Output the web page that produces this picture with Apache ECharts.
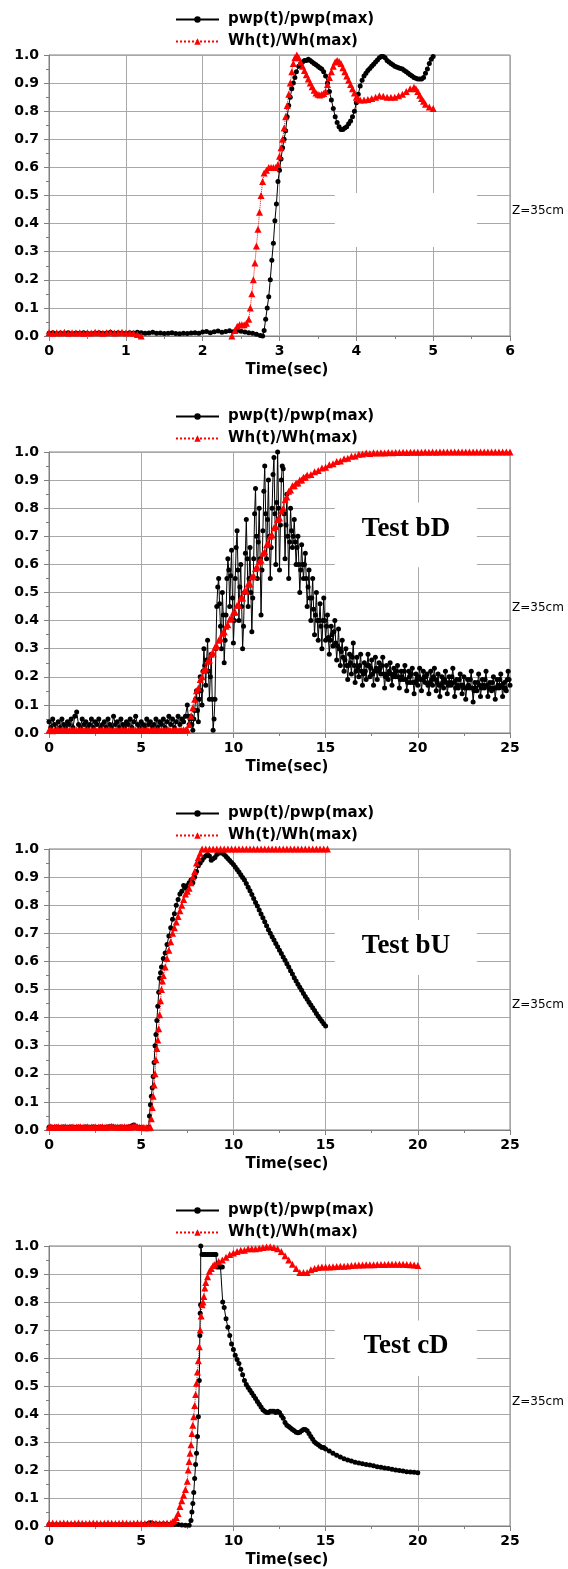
<!DOCTYPE html>
<html><head><meta charset="utf-8">
<script src="https://cdn.jsdelivr.net/npm/echarts@6.0.0/dist/echarts.min.js"></script>
<style>html,body{margin:0;padding:0;background:#fff}#c{width:568px;height:1569px}</style>
</head><body><div id="c"></div><script>
// ---------- DATA ----------
const seriesNames = ['pwp(t)/pwp(max)', 'Wh(t)/Wh(max)'];
const xAxisTitle = 'Time(sec)';
const yTickLabels = ['0.0','0.1','0.2','0.3','0.4','0.5','0.6','0.7','0.8','0.9','1.0'];
const xRanges = [[0, 6, 1], [0, 25, 5], [0, 25, 5], [0, 25, 5]];
const testLabels = ['', 'Test bD', 'Test bU', 'Test cD'];
const depthLabel = 'Z=35cm';
// text boxes in data coords [x0, x1, yTop, yBottom], label centre [x, y]
const boxRanges = [[3.72, 5.57, 0.509, 0.317], [15.5, 23.2, 0.82, 0.59], [15.5, 23.2, 0.747, 0.552], [15.5, 23.2, 0.734, 0.536]];
const labelCentres = [[4.6, 0.41], [19.36, 0.727], [19.36, 0.655], [19.36, 0.644]];

// Panel 1
const p1Pwp = [[0,0.010],[0.05,0.012],[0.1,0.009],[0.15,0.011],[0.2,0.010],[0.25,0.012],[0.3,0.009],[0.35,0.011],[0.4,0.010],[0.45,0.012],[0.5,0.010],[0.55,0.009],[0.6,0.011],[0.65,0.012],[0.7,0.010],[0.75,0.011],[0.8,0.013],[0.85,0.010],[0.9,0.012],[0.95,0.011],[1.0,0.010],[1.05,0.012],[1.1,0.011],[1.15,0.013],[1.2,0.012],[1.25,0.010],[1.3,0.011],[1.35,0.013],[1.4,0.010],[1.45,0.011],[1.5,0.009],[1.55,0.010],[1.6,0.012],[1.65,0.009],[1.7,0.008],[1.75,0.010],[1.8,0.009],[1.85,0.011],[1.9,0.012],[1.95,0.010],[2.0,0.014],[2.05,0.016],[2.1,0.012],[2.15,0.015],[2.2,0.018],[2.25,0.013],[2.3,0.016],[2.35,0.019],[2.4,0.015],[2.45,0.020],[2.5,0.017],[2.55,0.014],[2.6,0.012],[2.65,0.010],[2.7,0.006],[2.75,0.002],[2.78,0.0],[2.8,0.02],[2.82,0.06],[2.84,0.10],[2.86,0.14],[2.88,0.20],[2.9,0.27],[2.92,0.33],[2.94,0.41],[2.96,0.47],[2.98,0.55],[3.0,0.59],[3.02,0.63],[3.04,0.67],[3.06,0.70],[3.08,0.73],[3.1,0.78],[3.12,0.82],[3.14,0.85],[3.16,0.88],[3.18,0.90],[3.2,0.92],[3.22,0.94],[3.25,0.96],[3.275,0.97],[3.3,0.975],[3.325,0.98],[3.35,0.98],[3.375,0.985],[3.4,0.98],[3.425,0.975],[3.45,0.97],[3.475,0.965],[3.5,0.96],[3.525,0.955],[3.55,0.95],[3.575,0.94],[3.6,0.925],[3.625,0.90],[3.65,0.87],[3.675,0.84],[3.7,0.81],[3.725,0.78],[3.75,0.76],[3.775,0.745],[3.8,0.735],[3.825,0.735],[3.85,0.74],[3.875,0.745],[3.9,0.755],[3.925,0.765],[3.95,0.78],[3.975,0.80],[4.0,0.83],[4.025,0.86],[4.05,0.89],[4.075,0.91],[4.1,0.925],[4.125,0.935],[4.15,0.945],[4.175,0.952],[4.2,0.96],[4.225,0.967],[4.25,0.975],[4.275,0.982],[4.3,0.99],[4.325,0.995],[4.35,0.995],[4.375,0.99],[4.4,0.98],[4.425,0.975],[4.45,0.97],[4.475,0.965],[4.5,0.96],[4.525,0.957],[4.55,0.955],[4.575,0.952],[4.6,0.95],[4.625,0.945],[4.65,0.94],[4.675,0.935],[4.7,0.93],[4.725,0.925],[4.75,0.92],[4.775,0.917],[4.8,0.915],[4.825,0.915],[4.85,0.915],[4.875,0.92],[4.9,0.935],[4.925,0.95],[4.95,0.97],[4.975,0.985],[5.0,0.995]];
const p1Wh = [[0,0.012],[0.05,0.010],[0.1,0.012],[0.15,0.011],[0.2,0.013],[0.25,0.010],[0.3,0.012],[0.35,0.011],[0.4,0.012],[0.45,0.010],[0.5,0.012],[0.55,0.011],[0.6,0.013],[0.65,0.012],[0.7,0.010],[0.75,0.012],[0.8,0.013],[0.85,0.011],[0.9,0.012],[0.95,0.013],[1.0,0.011],[1.05,0.012],[1.1,0.010],[1.15,0.005],[1.2,0.0],[1.25,null],[2.38,0.0],[2.42,0.02],[2.45,0.035],[2.48,0.04],[2.51,0.04],[2.54,0.04],[2.57,0.045],[2.6,0.06],[2.62,0.10],[2.64,0.15],[2.66,0.20],[2.68,0.26],[2.7,0.32],[2.72,0.38],[2.74,0.44],[2.76,0.50],[2.78,0.55],[2.8,0.58],[2.83,0.59],[2.86,0.60],[2.89,0.60],[2.92,0.60],[2.95,0.60],[2.98,0.61],[3.0,0.64],[3.02,0.67],[3.04,0.70],[3.06,0.74],[3.08,0.78],[3.1,0.82],[3.12,0.86],[3.14,0.90],[3.16,0.94],[3.18,0.97],[3.2,0.99],[3.225,1.0],[3.25,0.99],[3.275,0.975],[3.3,0.96],[3.325,0.945],[3.35,0.93],[3.375,0.915],[3.4,0.90],[3.425,0.887],[3.45,0.875],[3.475,0.865],[3.5,0.86],[3.525,0.858],[3.55,0.86],[3.575,0.863],[3.6,0.87],[3.625,0.895],[3.65,0.92],[3.675,0.94],[3.7,0.96],[3.725,0.975],[3.75,0.98],[3.775,0.977],[3.8,0.97],[3.825,0.955],[3.85,0.94],[3.875,0.925],[3.9,0.91],[3.925,0.895],[3.95,0.88],[3.975,0.865],[4.0,0.85],[4.025,0.843],[4.05,0.84],[4.1,0.84],[4.15,0.842],[4.2,0.845],[4.25,0.85],[4.3,0.855],[4.35,0.853],[4.4,0.85],[4.45,0.85],[4.5,0.85],[4.55,0.855],[4.6,0.86],[4.65,0.87],[4.7,0.88],[4.75,0.885],[4.775,0.88],[4.8,0.87],[4.825,0.857],[4.85,0.845],[4.875,0.835],[4.9,0.825],[4.95,0.815],[5.0,0.81]];

// Panel 2 (Test bD)
const p2Pwp = [[0,0.04],[0.1,0.02],[0.2,0.05],[0.3,0.03],[0.4,0.01],[0.5,0.04],[0.6,0.02],[0.7,0.05],[0.8,0.03],[0.9,0.02],[1.0,0.04],[1.1,0.03],[1.2,0.05],[1.3,0.02],[1.4,0.06],[1.5,0.075],[1.6,0.03],[1.7,0.02],[1.8,0.05],[1.9,0.03],[2.0,0.04],[2.1,0.02],[2.2,0.03],[2.3,0.05],[2.4,0.02],[2.5,0.04],[2.6,0.03],[2.7,0.05],[2.8,0.02],[2.9,0.03],[3.0,0.04],[3.1,0.02],[3.2,0.05],[3.3,0.03],[3.4,0.02],[3.5,0.06],[3.6,0.03],[3.7,0.04],[3.8,0.02],[3.9,0.05],[4.0,0.03],[4.1,0.02],[4.2,0.04],[4.3,0.03],[4.4,0.05],[4.5,0.02],[4.6,0.04],[4.7,0.06],[4.8,0.03],[4.9,0.02],[5.0,0.04],[5.1,0.03],[5.2,0.02],[5.3,0.05],[5.4,0.03],[5.5,0.04],[5.6,0.02],[5.7,0.03],[5.8,0.05],[5.9,0.02],[6.0,0.04],[6.1,0.03],[6.2,0.05],[6.3,0.02],[6.4,0.04],[6.5,0.06],[6.6,0.03],[6.7,0.05],[6.8,0.02],[6.9,0.04],[7.0,0.06],[7.1,0.03],[7.2,0.05],[7.3,0.04],[7.4,0.06],
[7.5,0.10],[7.55,0.06],[7.6,0.03],[7.65,0.05],[7.7,0.06],[7.75,0.03],[7.8,0.01],[7.85,0.05],[7.9,0.08],[7.95,0.12],[8.0,0.15],[8.05,0.08],[8.1,0.04],[8.15,0.12],[8.2,0.20],[8.25,0.15],[8.3,0.10],[8.35,0.22],[8.4,0.30],[8.45,0.24],[8.5,0.17],[8.55,0.26],[8.6,0.33],[8.65,0.22],[8.7,0.12],[8.75,0.20],[8.8,0.28],[8.85,0.12],[8.9,0.01],[8.95,0.05],
[9.0,0.12],[9.05,0.30],[9.1,0.45],[9.15,0.52],[9.2,0.55],[9.25,0.46],[9.3,0.38],[9.35,0.30],[9.4,0.50],[9.45,0.42],[9.5,0.25],[9.55,0.33],[9.6,0.42],[9.65,0.55],[9.7,0.62],[9.75,0.58],[9.8,0.45],[9.85,0.56],[9.9,0.65],[9.95,0.48],[10.0,0.32],[10.05,0.40],[10.1,0.55],[10.15,0.66],[10.2,0.72],[10.25,0.58],[10.3,0.40],[10.35,0.52],[10.4,0.60],[10.45,0.45],[10.5,0.30],[10.55,0.38],[10.6,0.50],[10.65,0.64],[10.7,0.76],[10.75,0.62],[10.8,0.45],[10.85,0.55],[10.9,0.66],[10.95,0.50],[11.0,0.36],[11.05,0.48],[11.1,0.62],[11.15,0.78],[11.2,0.87],[11.25,0.70],[11.3,0.55],[11.35,0.68],[11.4,0.80],[11.45,0.62],[11.5,0.42],[11.55,0.58],[11.6,0.72],[11.65,0.86],[11.7,0.95],[11.75,0.78],[11.8,0.62],[11.85,0.76],[11.9,0.90],[11.95,0.70],[12.0,0.55],[12.05,0.66],[12.1,0.80],[12.15,0.92],[12.2,0.98],[12.25,0.78],[12.3,0.60],[12.35,0.82],[12.4,1.00],[12.45,0.80],[12.5,0.58],[12.55,0.74],[12.6,0.90],[12.65,0.95],[12.7,0.94],[12.75,0.78],[12.8,0.62],[12.85,0.74],[12.9,0.85],[12.95,0.70],[13.0,0.55],[13.05,0.68],[13.1,0.80],[13.15,0.72],[13.2,0.66],[13.25,0.70],[13.3,0.76],[13.35,0.68],[13.4,0.60],[13.45,0.66],[13.5,0.70],[13.55,0.60],[13.6,0.50],[13.65,0.58],[13.7,0.67],[13.75,0.60],[13.8,0.55],[13.85,0.60],[13.9,0.64],[13.95,0.55],[14.0,0.45],[14.05,0.52],[14.1,0.58],[14.15,0.48],[14.2,0.40],[14.25,0.48],[14.3,0.55],[14.35,0.44],[14.4,0.35],[14.45,0.42],[14.5,0.50],[14.55,0.40],[14.6,0.33],[14.65,0.40],[14.7,0.46],[14.75,0.38],[14.8,0.30],[14.85,0.40],[14.9,0.48],[14.95,0.40],
[15.0,0.33],[15.05,0.38],[15.1,0.42],[15.15,0.34],[15.2,0.28],[15.25,0.33],[15.3,0.38],[15.35,0.35],[15.4,0.31],[15.45,0.36],[15.5,0.40],[15.55,0.32],[15.6,0.26],[15.65,0.31],[15.7,0.37],[15.75,0.30],[15.8,0.24],[15.85,0.29],[15.9,0.33],[15.95,0.27],[16.0,0.22],[16.05,0.26],[16.1,0.30],[16.15,0.24],[16.2,0.19],[16.25,0.24],[16.3,0.28],[16.35,0.25],[16.4,0.21],[16.45,0.27],[16.5,0.32],[16.55,0.24],[16.6,0.18],[16.65,0.22],[16.7,0.27],[16.75,0.23],[16.8,0.20],[16.85,0.24],[16.9,0.28],[16.95,0.22],[17.0,0.17],[17.05,0.21],[17.1,0.25],[17.15,0.22],[17.2,0.19],[17.25,0.24],[17.3,0.28],[17.35,0.24],[17.4,0.20],[17.45,0.23],[17.5,0.26],[17.55,0.21],[17.6,0.17],[17.65,0.22],[17.7,0.27],[17.75,0.23],[17.8,0.19],[17.85,0.22],[17.9,0.25],[17.95,0.23],[18.0,0.21],[18.05,0.24],[18.1,0.27],[18.15,0.21],[18.2,0.16],[18.25,0.20],[18.3,0.24],[18.35,0.21],[18.4,0.19],[18.45,0.22],[18.5,0.25],[18.55,0.21],[18.6,0.17],[18.65,0.20],[18.7,0.23],[18.75,0.21],[18.8,0.20],[18.85,0.22],[18.9,0.24],[18.95,0.20],[19.0,0.16],[19.05,0.19],[19.1,0.22],[19.15,0.20],[19.2,0.19],[19.25,0.22],[19.3,0.24],[19.35,0.19],[19.4,0.15],[19.45,0.18],[19.5,0.22],[19.55,0.20],[19.6,0.18],[19.65,0.21],[19.7,0.23],[19.75,0.18],[19.8,0.14],[19.85,0.18],[19.9,0.21],[19.95,0.19],[20.0,0.17],[20.05,0.20],[20.1,0.23],[20.15,0.19],[20.2,0.15],[20.25,0.19],[20.3,0.22],[20.35,0.20],[20.4,0.18],[20.45,0.20],[20.5,0.21],[20.55,0.17],[20.6,0.14],[20.65,0.18],[20.7,0.22],[20.75,0.19],[20.8,0.17],[20.85,0.20],[20.9,0.23],[20.95,0.19],[21.0,0.15],[21.05,0.18],[21.1,0.21],[21.15,0.17],[21.2,0.13],[21.25,0.17],[21.3,0.20],[21.35,0.18],[21.4,0.16],[21.45,0.19],[21.5,0.22],[21.55,0.18],[21.6,0.14],[21.65,0.17],[21.7,0.20],[21.75,0.18],[21.8,0.17],[21.85,0.20],[21.9,0.23],[21.95,0.18],[22.0,0.13],[22.05,0.16],[22.1,0.19],[22.15,0.17],[22.2,0.16],[22.25,0.19],[22.3,0.21],[22.35,0.17],[22.4,0.14],[22.45,0.17],[22.5,0.20],[22.55,0.16],[22.6,0.12],[22.65,0.16],[22.7,0.19],[22.75,0.17],[22.8,0.16],[22.85,0.19],[22.9,0.22],[22.95,0.16],[23.0,0.11],[23.05,0.15],[23.1,0.18],[23.15,0.16],[23.2,0.15],[23.25,0.18],[23.3,0.21],[23.35,0.17],[23.4,0.13],[23.45,0.16],[23.5,0.19],[23.55,0.17],[23.6,0.16],[23.65,0.19],[23.7,0.22],[23.75,0.17],[23.8,0.13],[23.85,0.16],[23.9,0.18],[23.95,0.16],[24.0,0.15],[24.05,0.18],[24.1,0.20],[24.15,0.16],[24.2,0.12],[24.25,0.16],[24.3,0.19],[24.35,0.17],[24.4,0.16],[24.45,0.19],[24.5,0.21],[24.55,0.17],[24.6,0.13],[24.65,0.16],[24.7,0.18],[24.75,0.16],[24.8,0.15],[24.85,0.19],[24.9,0.22],[24.95,0.19],[25.0,0.17]];
const p2Wh = [[0,0.010],[0.1,0.012],[0.2,0.008],[0.3,0.011],[0.4,0.010],[0.5,0.012],[0.6,0.009],[0.7,0.011],[0.8,0.010],[0.9,0.012],[1.0,0.009],[1.1,0.011],[1.2,0.010],[1.3,0.012],[1.4,0.009],[1.5,0.011],[1.6,0.010],[1.7,0.012],[1.8,0.009],[1.9,0.011],[2.0,0.010],[2.1,0.012],[2.2,0.009],[2.3,0.011],[2.4,0.010],[2.5,0.012],[2.6,0.009],[2.7,0.011],[2.8,0.010],[2.9,0.012],[3.0,0.009],[3.1,0.011],[3.2,0.010],[3.3,0.012],[3.4,0.009],[3.5,0.011],[3.6,0.010],[3.7,0.012],[3.8,0.009],[3.9,0.011],[4.0,0.010],[4.1,0.012],[4.2,0.009],[4.3,0.011],[4.4,0.010],[4.5,0.012],[4.6,0.009],[4.7,0.011],[4.8,0.010],[4.9,0.012],[5.0,0.009],[5.1,0.011],[5.2,0.010],[5.3,0.012],[5.4,0.009],[5.5,0.011],[5.6,0.010],[5.7,0.012],[5.8,0.009],[5.9,0.011],[6.0,0.010],[6.1,0.012],[6.2,0.009],[6.3,0.011],[6.4,0.010],[6.5,0.012],[6.6,0.009],[6.7,0.011],[6.8,0.010],[6.9,0.012],[7.0,0.009],[7.1,0.011],[7.2,0.010],[7.3,0.012],[7.4,0.010],
[7.5,0.012],[7.6,0.03],[7.7,0.06],[7.8,0.09],[7.9,0.12],[8.0,0.15],[8.1,0.16],[8.2,0.19],[8.3,0.20],[8.4,0.225],[8.5,0.23],[8.6,0.255],[8.7,0.26],[8.8,0.28],[8.9,0.285],[9.0,0.305],[9.1,0.31],[9.2,0.33],[9.3,0.335],[9.4,0.355],[9.5,0.36],[9.6,0.38],[9.7,0.385],[9.8,0.405],[9.9,0.41],[10.0,0.43],[10.1,0.43],[10.2,0.455],[10.3,0.455],[10.4,0.48],[10.5,0.48],[10.6,0.505],[10.7,0.505],[10.8,0.53],[10.9,0.53],[11.0,0.555],[11.1,0.56],[11.2,0.585],[11.3,0.59],[11.4,0.61],[11.5,0.615],[11.6,0.64],[11.7,0.645],[11.8,0.67],[11.9,0.675],[12.0,0.70],[12.1,0.705],[12.2,0.73],[12.3,0.735],[12.4,0.76],[12.5,0.765],[12.6,0.79],[12.7,0.80],[12.8,0.83],[12.9,0.84],[13.0,0.86],[13.1,0.865],[13.2,0.88],[13.3,0.88],[13.4,0.89],[13.5,0.89],[13.6,0.90],[13.7,0.90],[13.8,0.91],[13.9,0.91],[14.0,0.918],[14.2,0.92],[14.4,0.93],[14.6,0.934],[14.8,0.943],[15.0,0.946],[15.2,0.955],[15.4,0.958],[15.6,0.966],[15.8,0.968],[16.0,0.976],[16.2,0.978],[16.4,0.985],[16.6,0.986],[16.8,0.992],[17.0,0.993],[17.2,0.996],[17.4,0.995],[17.6,0.997],[17.8,0.996],[18.0,0.997],[18.2,0.996],[18.4,0.998],[18.6,0.997],[18.8,0.998],[19.0,0.998],[19.2,0.999],[19.4,0.998],[19.6,0.999],[19.8,0.999],[20.0,0.999],[20.2,0.999],[20.4,1.0],[20.6,0.999],[20.8,1.0],[21.0,0.999],[21.2,1.0],[21.4,1.0],[21.6,1.0],[21.8,1.0],[22.0,1.0],[22.2,1.0],[22.4,1.0],[22.6,1.0],[22.8,1.0],[23.0,1.0],[23.2,1.0],[23.4,1.0],[23.6,1.0],[23.8,1.0],[24.0,1.0],[24.2,1.0],[24.4,1.0],[24.6,1.0],[24.8,1.0],[25.0,1.0]];

// Panel 3 (Test bU)
const p3Pwp = [[0,0.010],[0.1,0.011],[0.2,0.009],[0.3,0.010],[0.4,0.011],[0.5,0.010],[0.6,0.009],[0.7,0.010],[0.8,0.011],[0.9,0.010],[1.0,0.009],[1.1,0.010],[1.2,0.011],[1.3,0.010],[1.4,0.009],[1.5,0.010],[1.6,0.011],[1.7,0.010],[1.8,0.009],[1.9,0.010],[2.0,0.011],[2.1,0.010],[2.2,0.009],[2.3,0.010],[2.4,0.011],[2.5,0.010],[2.6,0.009],[2.7,0.010],[2.8,0.011],[2.9,0.010],[3.0,0.009],[3.1,0.010],[3.2,0.011],[3.3,0.012],[3.4,0.012],[3.5,0.011],[3.6,0.010],[3.7,0.009],[3.8,0.010],[3.9,0.011],[4.0,0.010],[4.1,0.009],[4.2,0.010],[4.3,0.011],[4.4,0.012],[4.5,0.015],[4.6,0.018],[4.7,0.012],[4.8,0.010],[4.9,0.009],[5.0,0.008],[5.1,0.007],[5.2,0.006],[5.3,0.006],[5.4,0.01],[5.45,0.05],[5.5,0.09],[5.55,0.12],[5.6,0.15],[5.65,0.19],[5.7,0.24],[5.75,0.30],[5.8,0.34],[5.85,0.39],[5.9,0.44],[5.95,0.49],[6.0,0.54],[6.05,0.56],[6.1,0.58],[6.2,0.61],[6.3,0.63],[6.4,0.66],[6.5,0.69],[6.6,0.72],[6.7,0.75],[6.8,0.77],[6.9,0.80],[7.0,0.82],[7.1,0.84],[7.2,0.85],[7.3,0.87],[7.4,0.86],[7.5,0.87],[7.6,0.88],[7.7,0.89],[7.8,0.88],[7.9,0.90],[8.0,0.92],[8.1,0.94],[8.2,0.95],[8.3,0.96],[8.4,0.97],[8.5,0.975],[8.6,0.98],[8.7,0.975],[8.8,0.96],[8.9,0.965],[9.0,0.97],[9.1,0.98],[9.2,0.985],[9.3,0.99],[9.4,0.985],[9.5,0.980],[9.6,0.973],[9.7,0.966],[9.8,0.959],[9.9,0.952],[10.0,0.945],[10.1,0.936],[10.2,0.927],[10.3,0.918],[10.4,0.908],[10.5,0.899],[10.6,0.890],[10.7,0.877],[10.8,0.864],[10.9,0.851],[11.0,0.838],[11.1,0.824],[11.2,0.810],[11.3,0.797],[11.4,0.783],[11.5,0.769],[11.6,0.755],[11.7,0.741],[11.8,0.727],[11.9,0.713],[12.0,0.700],[12.1,0.688],[12.2,0.676],[12.3,0.664],[12.4,0.652],[12.5,0.640],[12.6,0.628],[12.7,0.616],[12.8,0.604],[12.9,0.592],[13.0,0.580],[13.1,0.567],[13.2,0.555],[13.3,0.542],[13.4,0.530],[13.5,0.519],[13.6,0.508],[13.7,0.497],[13.8,0.486],[13.9,0.475],[14.0,0.465],[14.1,0.455],[14.2,0.445],[14.3,0.435],[14.4,0.425],[14.5,0.415],[14.6,0.405],[14.7,0.396],[14.8,0.387],[14.9,0.378],[15.0,0.370]];
const p3Wh = [[0,0.010],[0.1,0.012],[0.2,0.009],[0.3,0.011],[0.4,0.010],[0.5,0.012],[0.6,0.009],[0.7,0.011],[0.8,0.010],[0.9,0.012],[1.0,0.009],[1.1,0.011],[1.2,0.010],[1.3,0.012],[1.4,0.009],[1.5,0.011],[1.6,0.010],[1.7,0.012],[1.8,0.009],[1.9,0.011],[2.0,0.010],[2.1,0.012],[2.2,0.009],[2.3,0.011],[2.4,0.010],[2.5,0.012],[2.6,0.009],[2.7,0.011],[2.8,0.010],[2.9,0.012],[3.0,0.009],[3.1,0.011],[3.2,0.010],[3.3,0.012],[3.4,0.013],[3.5,0.012],[3.6,0.010],[3.7,0.011],[3.8,0.009],[3.9,0.011],[4.0,0.010],[4.1,0.012],[4.2,0.009],[4.3,0.011],[4.4,0.010],[4.5,0.012],[4.6,0.014],[4.7,0.015],[4.8,0.012],[4.9,0.010],[5.0,0.009],[5.1,0.010],[5.2,0.008],[5.3,0.009],[5.4,0.008],[5.5,0.01],[5.55,0.04],[5.6,0.08],[5.65,0.12],[5.7,0.16],[5.75,0.20],[5.8,0.25],[5.85,0.29],[5.9,0.32],[5.95,0.36],[6.0,0.41],[6.05,0.46],[6.1,0.50],[6.15,0.53],[6.2,0.55],[6.3,0.58],[6.4,0.61],[6.5,0.64],[6.6,0.67],[6.7,0.70],[6.8,0.72],[6.9,0.74],[7.0,0.76],[7.1,0.78],[7.2,0.80],[7.3,0.82],[7.4,0.84],[7.5,0.85],[7.6,0.86],[7.7,0.88],[7.8,0.90],[7.9,0.92],[8.0,0.95],[8.1,0.97],[8.2,0.985],[8.3,1.0],[8.5,1.0],[8.7,1.0],[8.9,1.0],[9.1,1.0],[9.3,1.0],[9.5,1.0],[9.7,1.0],[9.9,1.0],[10.1,1.0],[10.3,1.0],[10.5,1.0],[10.7,1.0],[10.9,1.0],[11.1,1.0],[11.3,1.0],[11.5,1.0],[11.7,1.0],[11.9,1.0],[12.1,1.0],[12.3,1.0],[12.5,1.0],[12.7,1.0],[12.9,1.0],[13.1,1.0],[13.3,1.0],[13.5,1.0],[13.7,1.0],[13.9,1.0],[14.1,1.0],[14.3,1.0],[14.5,1.0],[14.7,1.0],[14.9,1.0],[15.1,1.0]];

// Panel 4 (Test cD)
const p4Pwp = [[0,0.005],[0.2,0.005],[0.4,0.005],[0.6,0.005],[0.8,0.005],[1.0,0.005],[1.2,0.005],[1.4,0.005],[1.6,0.005],[1.8,0.005],[2.0,0.005],[2.2,0.005],[2.4,0.005],[2.6,0.005],[2.8,0.005],[3.0,0.005],[3.2,0.005],[3.4,0.005],[3.6,0.005],[3.8,0.005],[4.0,0.005],[4.2,0.005],[4.4,0.005],[4.6,0.005],[4.8,0.005],[5.0,0.005],[5.2,0.006],[5.4,0.010],[5.5,0.012],[5.6,0.010],[5.8,0.008],[6.0,0.007],[6.2,0.008],[6.4,0.007],[6.6,0.006],[6.8,0.005],[7.0,0.005],[7.2,0.004],[7.4,0.003],[7.6,0.003],[7.7,0.02],[7.75,0.05],[7.8,0.08],[7.85,0.12],[7.9,0.17],[7.95,0.22],[8.0,0.26],[8.05,0.32],[8.1,0.39],[8.15,0.52],[8.18,0.68],[8.2,0.76],[8.22,0.79],[8.23,1.0],[8.3,0.97],[8.4,0.97],[8.5,0.97],[8.6,0.97],[8.7,0.97],[8.8,0.97],[8.9,0.97],[9.0,0.97],[9.05,0.97],[9.1,0.925],[9.2,0.925],[9.3,0.925],[9.4,0.925],[9.42,0.80],[9.5,0.78],[9.6,0.74],[9.7,0.71],[9.8,0.68],[9.9,0.65],[10.0,0.63],[10.1,0.61],[10.2,0.595],[10.3,0.58],[10.4,0.56],[10.5,0.54],[10.6,0.52],[10.7,0.505],[10.8,0.495],[10.9,0.485],[11.0,0.475],[11.1,0.465],[11.2,0.455],[11.3,0.445],[11.4,0.435],[11.5,0.425],[11.6,0.415],[11.7,0.41],[11.8,0.405],[11.9,0.405],[12.0,0.41],[12.1,0.41],[12.2,0.41],[12.3,0.405],[12.4,0.41],[12.5,0.405],[12.6,0.395],[12.7,0.385],[12.8,0.37],[12.9,0.36],[13.0,0.355],[13.1,0.35],[13.2,0.345],[13.3,0.34],[13.4,0.335],[13.5,0.333],[13.6,0.335],[13.7,0.34],[13.8,0.345],[13.9,0.345],[14.0,0.34],[14.1,0.33],[14.2,0.32],[14.3,0.31],[14.4,0.30],[14.5,0.295],[14.6,0.29],[14.7,0.285],[14.8,0.28],[14.9,0.28],[15.0,0.275],[15.2,0.268],[15.4,0.26],[15.6,0.253],[15.8,0.246],[16.0,0.24],[16.2,0.236],[16.4,0.232],[16.6,0.228],[16.8,0.225],[17.0,0.222],[17.2,0.22],[17.4,0.218],[17.6,0.215],[17.8,0.212],[18.0,0.21],[18.2,0.207],[18.4,0.205],[18.6,0.203],[18.8,0.20],[19.0,0.198],[19.2,0.196],[19.4,0.194],[19.6,0.193],[19.8,0.192],[20.0,0.19]];
const p4Wh = [[0,0.010],[0.2,0.011],[0.4,0.009],[0.6,0.010],[0.8,0.011],[1.0,0.010],[1.2,0.009],[1.4,0.010],[1.6,0.011],[1.8,0.010],[2.0,0.009],[2.2,0.010],[2.4,0.011],[2.6,0.010],[2.8,0.009],[3.0,0.010],[3.2,0.011],[3.4,0.010],[3.6,0.009],[3.8,0.010],[4.0,0.011],[4.2,0.010],[4.4,0.009],[4.6,0.010],[4.8,0.011],[5.0,0.010],[5.2,0.009],[5.4,0.010],[5.6,0.011],[5.8,0.010],[6.0,0.009],[6.2,0.010],[6.4,0.011],[6.6,0.010],[6.7,0.015],[6.8,0.02],[6.9,0.03],[7.0,0.045],[7.1,0.07],[7.2,0.09],[7.3,0.11],[7.4,0.13],[7.5,0.16],[7.55,0.20],[7.6,0.23],[7.65,0.26],[7.7,0.29],[7.75,0.33],[7.8,0.36],[7.85,0.39],[7.9,0.43],[7.95,0.47],[8.0,0.51],[8.05,0.55],[8.1,0.59],[8.15,0.64],[8.2,0.70],[8.25,0.75],[8.3,0.79],[8.35,0.80],[8.4,0.82],[8.45,0.85],[8.5,0.87],[8.6,0.89],[8.7,0.91],[8.8,0.92],[8.9,0.93],[9.0,0.935],[9.2,0.945],[9.4,0.95],[9.6,0.96],[9.8,0.97],[10.0,0.975],[10.2,0.98],[10.4,0.985],[10.6,0.985],[10.8,0.99],[11.0,0.99],[11.2,0.99],[11.4,0.992],[11.6,0.995],[11.8,0.996],[12.0,0.997],[12.2,0.995],[12.4,0.99],[12.6,0.98],[12.8,0.965],[13.0,0.95],[13.2,0.935],[13.4,0.92],[13.6,0.905],[13.8,0.905],[14.0,0.905],[14.2,0.915],[14.4,0.92],[14.6,0.923],[14.8,0.925],[15.0,0.925],[15.2,0.925],[15.4,0.926],[15.6,0.927],[15.8,0.928],[16.0,0.928],[16.2,0.929],[16.4,0.93],[16.6,0.931],[16.8,0.932],[17.0,0.932],[17.2,0.933],[17.4,0.933],[17.6,0.933],[17.8,0.934],[18.0,0.934],[18.2,0.934],[18.4,0.935],[18.6,0.935],[18.8,0.935],[19.0,0.935],[19.2,0.935],[19.4,0.934],[19.6,0.933],[19.8,0.932],[20.0,0.93]];

const pwpData = [p1Pwp, p2Pwp, p3Pwp, p4Pwp];
const whData = [p1Wh, p2Wh, p3Wh, p4Wh];

// ---------- LAYOUT ----------
const tops = [55, 452, 849, 1246];
const H = 281, LEFT = 49, W = 461;
const FONT = '"DejaVu Sans", "Liberation Sans", Arial, sans-serif';
const AX = '#808080', GRID = '#a8a8a8';

const chart = echarts.init(document.getElementById('c'), null, {renderer: 'canvas'});
const grid = [], xAxis = [], yAxis = [], series = [], legend = [];
for (let i = 0; i < 4; i++) {
  grid.push({left: LEFT, top: tops[i], width: W, height: H, show: true, borderColor: AX, borderWidth: 1, backgroundColor: 'transparent'});
  xAxis.push({
    gridIndex: i, type: 'value', min: xRanges[i][0], max: xRanges[i][1], interval: xRanges[i][2],
    axisLine: {show: true, onZero: false, lineStyle: {color: AX}},
    axisTick: {show: true, inside: false, length: 5, lineStyle: {color: AX}},
    minorTick: {show: true, splitNumber: 2, length: 3, lineStyle: {color: AX}},
    splitLine: {show: true, lineStyle: {color: GRID, width: 1}},
    axisLabel: {fontFamily: FONT, fontWeight: 'bold', fontSize: 14, color: '#000', margin: 8},
    name: xAxisTitle, nameLocation: 'middle', nameGap: 27,
    nameTextStyle: {fontFamily: FONT, fontWeight: 'bold', fontSize: 15, color: '#000', padding: [0, 0, 0, 15]}
  });
  yAxis.push({
    gridIndex: i, type: 'value', min: 0, max: 1, interval: 0.1,
    axisLine: {show: true, onZero: false, lineStyle: {color: AX}},
    axisTick: {show: true, inside: false, length: 5, lineStyle: {color: AX}},
    minorTick: {show: true, splitNumber: 2, length: 3, lineStyle: {color: AX}},
    splitLine: {show: true, lineStyle: {color: GRID, width: 1}},
    axisLabel: {fontFamily: FONT, fontWeight: 'bold', fontSize: 14, color: '#000', margin: 10,
      formatter: v => yTickLabels[Math.round(v * 10)]}
  });
  series.push({
    name: seriesNames[0], type: 'line', xAxisIndex: i, yAxisIndex: i, data: pwpData[i],
    symbol: 'circle', symbolSize: 5, showSymbol: true, connectNulls: false,
    lineStyle: {color: '#000', width: 1}, itemStyle: {color: '#000'}, animation: false
  });
  series.push({
    name: seriesNames[1], type: 'line', xAxisIndex: i, yAxisIndex: i, data: whData[i],
    symbol: 'triangle', symbolSize: 7, showSymbol: true, connectNulls: false,
    lineStyle: {color: '#ff0000', width: 1, type: 'dotted'}, itemStyle: {color: '#ff0000'}, animation: false
  });
  legend.push({
    orient: 'vertical', left: 170, top: tops[i] - 48, itemWidth: 43, itemHeight: 8, itemGap: 7,
    data: seriesNames, selectedMode: false,
    textStyle: {fontFamily: FONT, fontWeight: 'bold', fontSize: 15, color: '#000', padding: [0, 0, 0, 4]}
  });
}
chart.setOption({animation: false, backgroundColor: '#fff', grid, xAxis, yAxis, series, legend});

const graphic = [];
for (let i = 0; i < 4; i++) {
  const b = boxRanges[i];
  const p0 = chart.convertToPixel({gridIndex: i}, [b[0], b[2]]);
  const p1 = chart.convertToPixel({gridIndex: i}, [b[1], b[3]]);
  graphic.push({type: 'rect', z: 1, shape: {x: p0[0], y: p0[1], width: p1[0] - p0[0], height: p1[1] - p0[1]},
    style: {fill: '#fff', stroke: null}});
  if (testLabels[i]) {
    const c = chart.convertToPixel({gridIndex: i}, labelCentres[i]);
    graphic.push({type: 'text', z: 3, x: c[0], y: c[1],
      style: {text: testLabels[i], font: 'bold 27px "Liberation Serif", "Times New Roman", serif', fill: '#000',
        align: 'center', verticalAlign: 'middle', textAlign: 'center', textVerticalAlign: 'middle'}});
  }
  graphic.push({type: 'text', z: 3, x: 512, y: tops[i] + 156,
    style: {text: depthLabel, font: '12px "DejaVu Sans", Arial, sans-serif', fill: '#000',
      align: 'left', verticalAlign: 'middle', textAlign: 'left', textVerticalAlign: 'middle'}});
}
chart.setOption({graphic});
</script></body></html>
